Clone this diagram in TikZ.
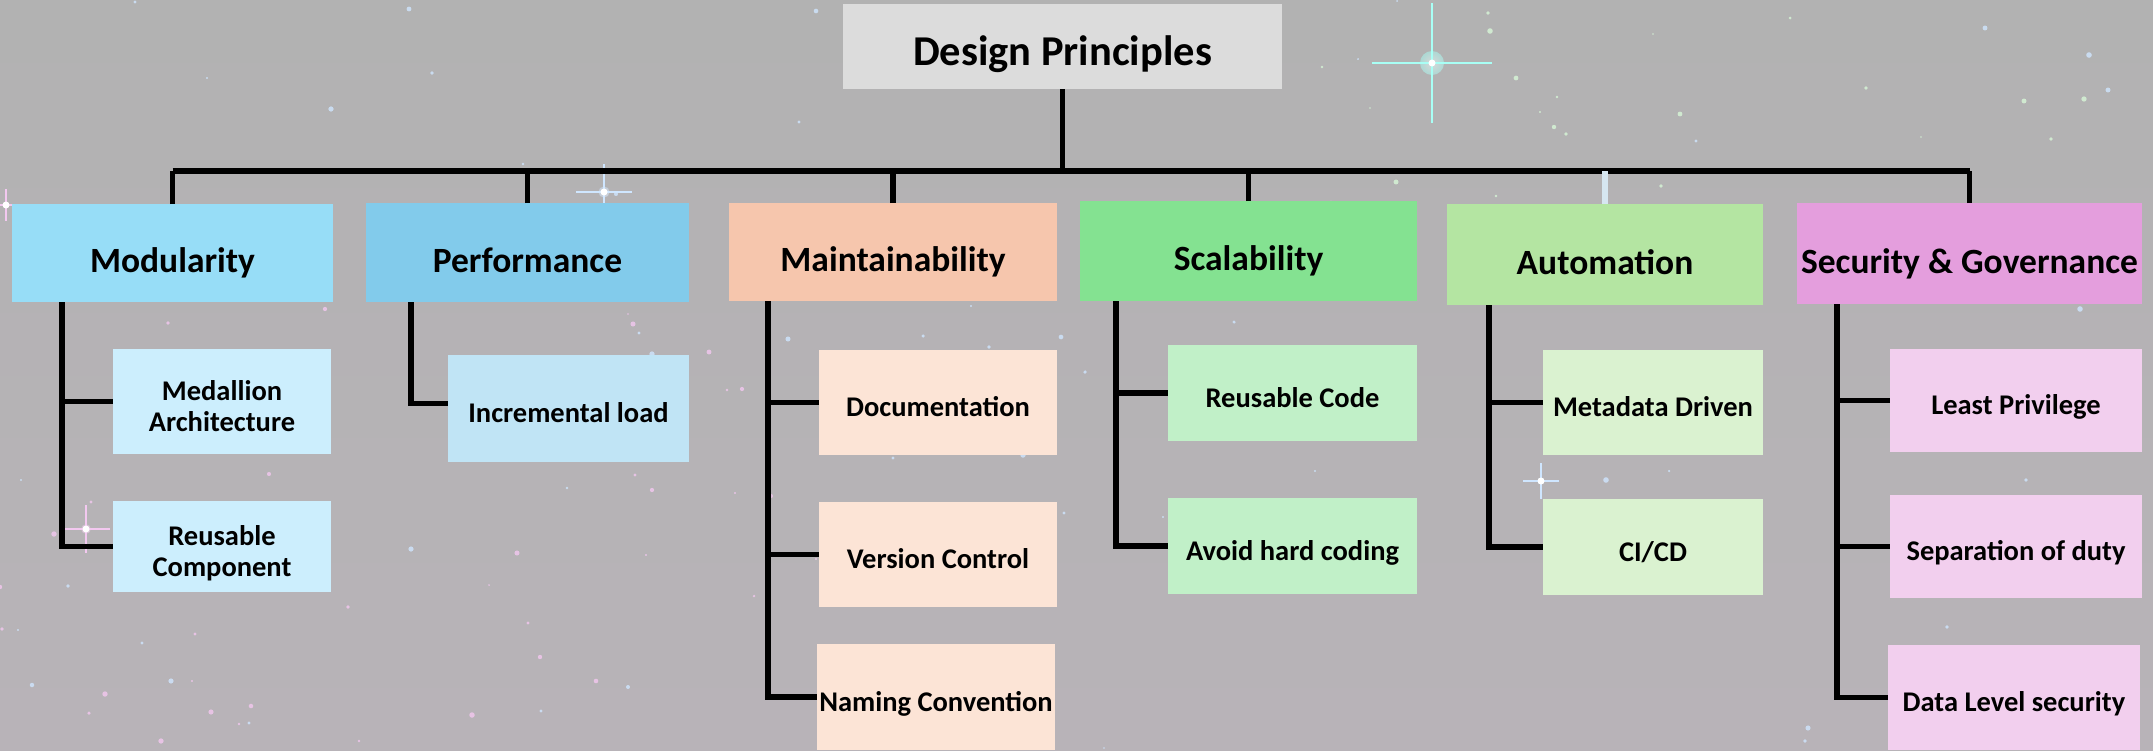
\documentclass[tikz,border=0pt]{standalone}
\usepackage{fontspec}
\setmainfont{Carlito}
\definecolor{bgtop}{HTML}{B2B2B2}
\definecolor{bgbot}{HTML}{B8B3B8}
\definecolor{titlefill}{HTML}{DCDCDC}
\definecolor{modhead}{HTML}{97DDF7}
\definecolor{modleaf}{HTML}{CCEEFD}
\definecolor{perfhead}{HTML}{82CBEB}
\definecolor{perfleaf}{HTML}{C0E4F5}
\definecolor{mainthead}{HTML}{F6C6AD}
\definecolor{maintleaf}{HTML}{FCE4D6}
\definecolor{scalhead}{HTML}{84E291}
\definecolor{scalleaf}{HTML}{C1F0C8}
\definecolor{autohead}{HTML}{B4E5A2}
\definecolor{autoleaf}{HTML}{DAF2D0}
\definecolor{sechead}{HTML}{E49EDD}
\definecolor{secleaf}{HTML}{F2CFEE}
\definecolor{starblue}{HTML}{CFE6FF}
\definecolor{starpink}{HTML}{F3C8F0}
\definecolor{stargreen}{HTML}{D8F7D8}
\definecolor{starcyan}{HTML}{A8FFF5}
\definecolor{faintwire}{HTML}{D6E6F0}
\tikzset{
  box/.style={inner sep=1pt, outer sep=0pt, align=center, text=black},
  dims/.style 2 args={minimum width=#1, minimum height=#2},
  head/.style={box, font=\fontsize{35.5}{40}\selectfont\bfseries, text height=39pt, text depth=0pt},
  leaf/.style={box, font=\fontsize{28.5}{31}\selectfont\bfseries, text height=28pt, text depth=0pt},
  twoline/.style={text height=60pt, text depth=0pt},
  wire/.style={line width=5.5pt, black},
}
\begin{document}
\begin{tikzpicture}[x=1pt,y=-1pt]
% background
\shade[top color=bgtop, bottom color=bgbot] (0,0) rectangle (2153,750);
\useasboundingbox (0,0) rectangle (2153,750);
\pgfmathsetseed{42}
\foreach \i in {1,...,70}{
  \pgfmathsetmacro{\sx}{random(0,2153)}
  \pgfmathsetmacro{\sy}{random(0,750)}
  \pgfmathsetmacro{\sr}{0.8+2*rnd}
  \fill[starblue, opacity=0.8] (\sx,\sy) circle (\sr);
}
\foreach \i in {1,...,45}{
  \pgfmathsetmacro{\sx}{random(0,900)}
  \pgfmathsetmacro{\sy}{random(300,750)}
  \pgfmathsetmacro{\sr}{0.8+2*rnd}
  \fill[starpink, opacity=0.8] (\sx,\sy) circle (\sr);
}
\foreach \i in {1,...,35}{
  \pgfmathsetmacro{\sx}{random(1300,2153)}
  \pgfmathsetmacro{\sy}{random(0,400)}
  \pgfmathsetmacro{\sr}{0.8+2*rnd}
  \fill[stargreen, opacity=0.8] (\sx,\sy) circle (\sr);
}
\foreach \px/\py/\pc/\pl in {1432/63/starcyan/60, 604/192/starblue/28, 86/529/starpink/24, 1541/481/starblue/18, 6/205/starpink/16}{
  \shade[inner color=white, outer color=\pc, opacity=0.5] (\px,\py) circle (\pl/5);
  \draw[\pc, line width=1.3pt] (\px-\pl,\py) -- (\px+\pl,\py) (\px,\py-\pl) -- (\px,\py+\pl);
  \fill[white] (\px,\py) circle (3.5);
}

% title and headers
\node[head, fill=titlefill, dims={439}{85}, font=\fontsize{42.5}{46}\selectfont\bfseries, text height=37pt] (title) at (1062.5,46.5) {Design Principles};
\node[head, fill=modhead, dims={321}{98}] (mod) at (172.5,253) {Modularity};
\node[head, fill=perfhead, dims={323}{99}] (perf) at (527.5,252.5) {Performance};
\node[head, fill=mainthead, dims={328}{98}] (maint) at (893,252) {Maintainability};
\node[head, fill=scalhead, dims={337}{100}] (scal) at (1248.5,251) {Scalability};
\node[head, fill=autohead, dims={316}{101}] (auto) at (1605,254.5) {Automation};
\node[head, fill=sechead, dims={345}{101}] (sec) at (1969.5,253.5) {Security \& Governance};

% leaves
\node[leaf, twoline, fill=modleaf, dims={218}{105}] (medal) at (222,401.5) {Medallion\\Architecture};
\node[leaf, twoline, fill=modleaf, dims={218}{91}] (reucomp) at (222,546.5) {Reusable\\Component};
\node[leaf, fill=perfleaf, dims={241}{107}] (incr) at (568.5,408.5) {Incremental load};
\node[leaf, fill=maintleaf, dims={238}{105}] (doc) at (938,402.5) {Documentation};
\node[leaf, fill=maintleaf, dims={238}{105}] (vers) at (938,554.5) {Version Control};
\node[leaf, fill=maintleaf, dims={238}{106}] (naming) at (936,697) {Naming Convention};
\node[leaf, fill=scalleaf, dims={249}{96}] (reucode) at (1292.5,393) {Reusable Code};
\node[leaf, fill=scalleaf, dims={249}{96}] (avoid) at (1292.5,546) {Avoid hard coding};
\node[leaf, fill=autoleaf, dims={220}{105}] (meta) at (1653,402.5) {Metadata Driven};
\node[leaf, fill=autoleaf, dims={220}{96}] (cicd) at (1653,547) {CI/CD};
\node[leaf, fill=secleaf, dims={252}{103}] (least) at (2016,400.5) {Least Privilege};
\node[leaf, fill=secleaf, dims={252}{103}] (sepd) at (2016,546.5) {Separation of duty};
\node[leaf, fill=secleaf, dims={252}{105}] (dls) at (2014,697.5) {Data Level security};

% tree
\coordinate (bus) at (0,171);
\draw[wire] (title.south) -- (title.south |- bus);
\draw[wire] (mod.north |- bus) -- (sec.north |- bus);
\foreach \h in {mod,perf,maint,scal,sec}
  \draw[wire] (\h.north) -- (\h.north |- bus);
\draw[wire, faintwire] (auto.north) -- (auto.north |- bus);

\draw[wire] ([xshift=50pt]mod.south west) |- (medal.west);
\draw[wire] ([xshift=50pt]mod.south west) |- (reucomp.west);
\draw[wire] ([xshift=45pt]perf.south west) |- ([yshift=5pt]incr.west);
\draw[wire] ([xshift=39pt]maint.south west) |- (doc.west);
\draw[wire] ([xshift=39pt]maint.south west) |- (vers.west);
\draw[wire] ([xshift=39pt]maint.south west) |- (naming.west);
\draw[wire] ([xshift=36pt]scal.south west) |- (reucode.west);
\draw[wire] ([xshift=36pt]scal.south west) |- (avoid.west);
\draw[wire] ([xshift=42pt]auto.south west) |- (meta.west);
\draw[wire] ([xshift=42pt]auto.south west) |- (cicd.west);
\draw[wire] ([xshift=40pt]sec.south west) |- (least.west);
\draw[wire] ([xshift=40pt]sec.south west) |- (sepd.west);
\draw[wire] ([xshift=40pt]sec.south west) |- (dls.west);
\end{tikzpicture}
\end{document}
